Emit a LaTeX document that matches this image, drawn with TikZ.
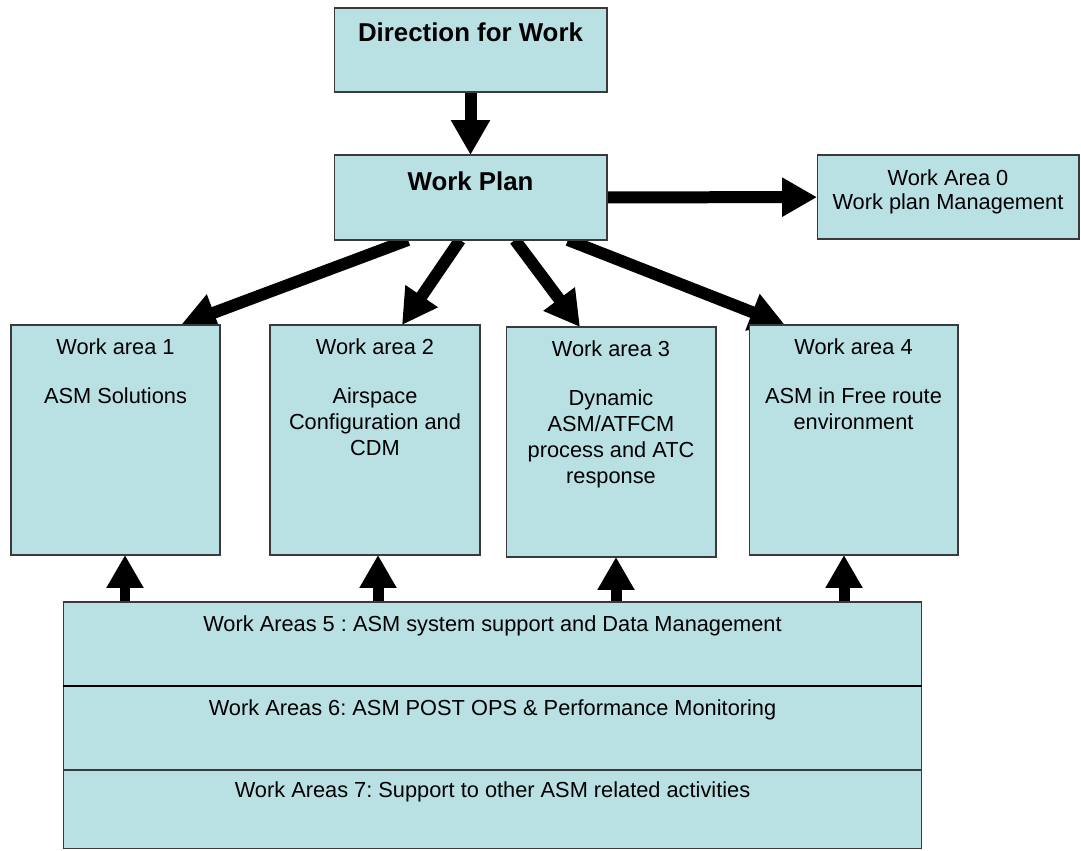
\documentclass[tikz,border=0pt]{standalone}
\usepackage{fontspec}
\setmainfont{Liberation Sans}
\usetikzlibrary{positioning,arrows.meta,backgrounds}
\definecolor{boxfill}{HTML}{B9E0E3}
\definecolor{boxline}{HTML}{3A3A3A}
\frenchspacing

\begin{document}
\begin{tikzpicture}[x=0.02cm, y=-0.02cm,
    box/.style={rectangle, draw=boxline, fill=boxfill, line width=0.6pt, outer sep=0pt, inner sep=0pt},
    lbl/.style={anchor=north, inner sep=0pt, align=center, font=\fontsize{12.4}{14.7}\selectfont},
    title/.style={lbl, font=\fontsize{14.7}{17}\selectfont\bfseries},
    flow/.style={line width=0.24cm, -{Triangle[width=0.74cm, length=0.7cm]}},
    feed/.style={line width=0.22cm, -{Triangle[width=0.7cm, length=0.66cm]}}]
    \useasboundingbox (0,0) rectangle (1081,851);

    \node[box, minimum width=5.46cm, minimum height=1.68cm,
        label={[title, yshift=-0.28cm]north:Direction for Work}] (dir) at (470.5,50) {};
    \node[box, minimum width=5.46cm, minimum height=1.70cm,
        label={[title, yshift=-0.32cm]north:Work Plan}] (plan) at (470.5,197.5) {};
    \node[box, minimum width=5.24cm, minimum height=1.68cm,
        label={[lbl, yshift=-0.28cm, font=\fontsize{12.4}{13.6}\selectfont]north:Work Area 0\\Work plan Management}] (wa0) at (948,197) {};

    \node[box, minimum width=4.18cm, minimum height=4.6cm,
        label={[lbl, yshift=-0.26cm]north:Work area 1\\[13.6pt]ASM Solutions}] (wa1) at (115.5,440) {};
    \node[box, minimum width=4.2cm, minimum height=4.6cm,
        label={[lbl, yshift=-0.26cm]north:Work area 2\\[13.6pt]Airspace\\Configuration and\\CDM}] (wa2) at (375,440) {};
    \node[box, minimum width=4.2cm, minimum height=4.6cm,
        label={[lbl, yshift=-0.26cm]north:Work area 3\\[13.6pt]Dynamic\\ASM/ATFCM\\process and ATC\\response}] (wa3) at (611,442) {};
    \node[box, minimum width=4.18cm, minimum height=4.6cm,
        label={[lbl, yshift=-0.26cm]north:Work area 4\\[13.6pt]ASM in Free route\\environment}] (wa4) at (853.5,440) {};

    \node[box, minimum width=17.18cm, minimum height=1.68cm,
        label={[lbl, yshift=-0.26cm]north:Work Areas 5 : ASM system support and Data Management}] (wa5) at (492.5,644) {};
    \node[box, minimum width=17.18cm, minimum height=1.68cm, below=0cm of wa5,
        label={[lbl, yshift=-0.26cm]north:Work Areas 6: ASM POST OPS \& Performance Monitoring}] (wa6) {};
    \node[box, minimum width=17.18cm, minimum height=1.58cm, below=0cm of wa6,
        label={[lbl, yshift=-0.22cm]north:Work Areas 7: Support to other ASM related activities}] (wa7) {};
    \draw[line width=1.6pt] (wa5.south west) -- (wa5.south east);

    \begin{pgfonlayer}{background}
    \draw[flow] (dir) -- (plan);
    \draw[flow] (plan) -- (wa0);
    \draw[flow] ([xshift=-1.25cm]plan.south) -- ([xshift=1.31cm]wa1.north);
    \draw[flow] ([xshift=-0.21cm]plan.south) -- ([xshift=0.54cm]wa2.north);
    \draw[flow] ([xshift=0.89cm]plan.south) -- ([xshift=-0.62cm]wa3.north);
    \draw[flow] ([xshift=1.95cm]plan.south) -- ([xshift=-1.37cm]wa4.north);
    \draw[feed] ([xshift=0.19cm]wa1.south |- wa5.north) -- ([xshift=0.19cm]wa1.south);
    \draw[feed] ([xshift=0.06cm]wa2.south |- wa5.north) -- ([xshift=0.06cm]wa2.south);
    \draw[feed] ([xshift=0.1cm]wa3.south |- wa5.north) -- ([xshift=0.1cm]wa3.south);
    \draw[feed] ([xshift=-0.19cm]wa4.south |- wa5.north) -- ([xshift=-0.19cm]wa4.south);
    \end{pgfonlayer}
\end{tikzpicture}
\end{document}
